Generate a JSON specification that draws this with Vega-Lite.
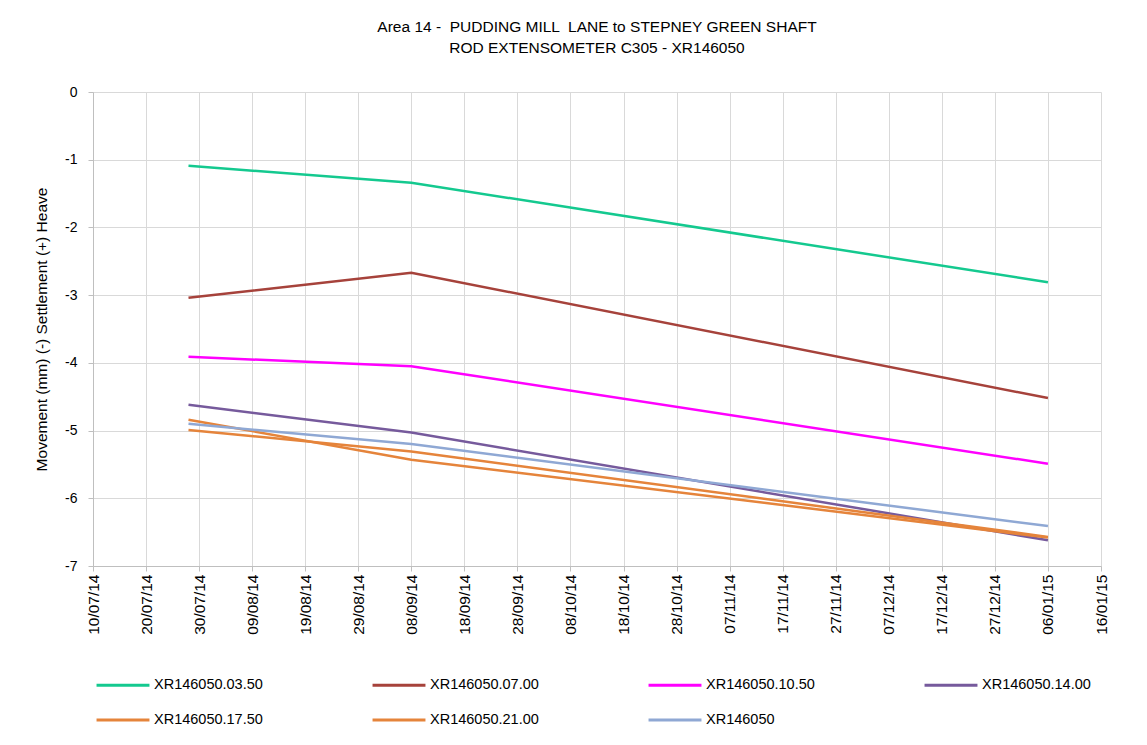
{
  "$schema": "https://vega.github.io/schema/vega-lite/v6.json",
  "width": 1008,
  "height": 474,
  "autosize": "none",
  "padding": {"left": 93, "top": 92, "right": 46, "bottom": 179},
  "background": "white",
  "config": {"view": {"stroke": null}, "font": "Liberation Sans"},
  "title": {
    "text": ["Area 14 - \u00a0PUDDING MILL \u00a0LANE to STEPNEY GREEN SHAFT", "ROD EXTENSOMETER C305 - XR146050"],
    "font": "Liberation Sans",
    "fontSize": 15.5,
    "fontWeight": "normal",
    "color": "#000000",
    "anchor": "middle",
    "offset": 29,
    "lineHeight": 21
  },
  "data": {
    "values": [
      {"series": "XR146050.03.50", "date": "2014-07-28", "value": -1.09},
      {"series": "XR146050.03.50", "date": "2014-09-08", "value": -1.34},
      {"series": "XR146050.03.50", "date": "2015-01-06", "value": -2.81},
      {"series": "XR146050.07.00", "date": "2014-07-28", "value": -3.04},
      {"series": "XR146050.07.00", "date": "2014-09-08", "value": -2.67},
      {"series": "XR146050.07.00", "date": "2015-01-06", "value": -4.52},
      {"series": "XR146050.10.50", "date": "2014-07-28", "value": -3.91},
      {"series": "XR146050.10.50", "date": "2014-09-08", "value": -4.05},
      {"series": "XR146050.10.50", "date": "2015-01-06", "value": -5.49},
      {"series": "XR146050.14.00", "date": "2014-07-28", "value": -4.62},
      {"series": "XR146050.14.00", "date": "2014-09-08", "value": -5.03},
      {"series": "XR146050.14.00", "date": "2015-01-06", "value": -6.62},
      {"series": "XR146050.17.50", "date": "2014-07-28", "value": -4.84},
      {"series": "XR146050.17.50", "date": "2014-09-08", "value": -5.43},
      {"series": "XR146050.17.50", "date": "2015-01-06", "value": -6.58},
      {"series": "XR146050.21.00", "date": "2014-07-28", "value": -4.99},
      {"series": "XR146050.21.00", "date": "2014-09-08", "value": -5.31},
      {"series": "XR146050.21.00", "date": "2015-01-06", "value": -6.57},
      {"series": "XR146050", "date": "2014-07-28", "value": -4.90},
      {"series": "XR146050", "date": "2014-09-08", "value": -5.20},
      {"series": "XR146050", "date": "2015-01-06", "value": -6.41}
    ]
  },
  "mark": {"type": "line", "strokeWidth": 2.5, "interpolate": "linear"},
  "encoding": {
    "x": {
      "field": "date",
      "type": "temporal",
      "scale": {"type": "utc", "domain": [{"year": 2014, "month": 7, "date": 10, "utc": true}, {"year": 2015, "month": 1, "date": 16, "utc": true}], "nice": false},
      "axis": {
        "title": null,
        "format": "%d/%m/%y",
        "values": [
          {"year": 2014, "month": 7, "date": 10, "utc": true},
          {"year": 2014, "month": 7, "date": 20, "utc": true},
          {"year": 2014, "month": 7, "date": 30, "utc": true},
          {"year": 2014, "month": 8, "date": 9, "utc": true},
          {"year": 2014, "month": 8, "date": 19, "utc": true},
          {"year": 2014, "month": 8, "date": 29, "utc": true},
          {"year": 2014, "month": 9, "date": 8, "utc": true},
          {"year": 2014, "month": 9, "date": 18, "utc": true},
          {"year": 2014, "month": 9, "date": 28, "utc": true},
          {"year": 2014, "month": 10, "date": 8, "utc": true},
          {"year": 2014, "month": 10, "date": 18, "utc": true},
          {"year": 2014, "month": 10, "date": 28, "utc": true},
          {"year": 2014, "month": 11, "date": 7, "utc": true},
          {"year": 2014, "month": 11, "date": 17, "utc": true},
          {"year": 2014, "month": 11, "date": 27, "utc": true},
          {"year": 2014, "month": 12, "date": 7, "utc": true},
          {"year": 2014, "month": 12, "date": 17, "utc": true},
          {"year": 2014, "month": 12, "date": 27, "utc": true},
          {"year": 2015, "month": 1, "date": 6, "utc": true},
          {"year": 2015, "month": 1, "date": 16, "utc": true}
        ],
        "labelAngle": 270,
        "labelFont": "Liberation Sans",
        "labelFontSize": 15.5,
        "labelColor": "#000000",
        "labelPadding": 3,
        "tickSize": 5,
        "tickColor": "#BFBFBF",
        "domainColor": "#BFBFBF",
        "grid": true,
        "gridColor": "#D9D9D9",
        "labelOverlap": false,
        "labelFlush": false
      }
    },
    "y": {
      "field": "value",
      "type": "quantitative",
      "scale": {"domain": [-7, 0], "nice": false, "zero": false},
      "axis": {
        "title": "Movement (mm) (-) Settlement (+) Heave",
        "titleFont": "Liberation Sans",
        "titleFontSize": 15.5,
        "titleFontWeight": "normal",
        "titleColor": "#000000",
        "titlePadding": 15,
        "values": [-7, -6, -5, -4, -3, -2, -1, 0],
        "labelExpr": "datum.value + ''",
        "labelFont": "Liberation Sans",
        "labelFontSize": 14,
        "labelColor": "#000000",
        "labelPadding": 11,
        "tickSize": 5,
        "tickColor": "#BFBFBF",
        "domainColor": "#BFBFBF",
        "grid": true,
        "gridColor": "#D9D9D9"
      }
    },
    "color": {
      "field": "series",
      "type": "nominal",
      "sort": ["XR146050.03.50", "XR146050.07.00", "XR146050.10.50", "XR146050.14.00", "XR146050.17.50", "XR146050.21.00", "XR146050"],
      "scale": {
        "domain": ["XR146050.03.50", "XR146050.07.00", "XR146050.10.50", "XR146050.14.00", "XR146050.17.50", "XR146050.21.00", "XR146050"],
        "range": ["#14C98F", "#A6423B", "#FF00FF", "#765A9C", "#E5843B", "#E5843B", "#8FA8D4"]
      },
      "legend": {
        "orient": "none",
        "legendX": 2,
        "legendY": 565,
        "direction": "horizontal",
        "columns": 4,
        "gridAlign": "all",
        "title": null,
        "symbolType": "stroke",
        "symbolSize": 2800,
        "symbolStrokeWidth": 3,
        "labelFont": "Liberation Sans",
        "labelFontSize": 14.5,
        "labelColor": "#000000",
        "labelOffset": 3,
        "labelLimit": 200,
        "columnPadding": 103,
        "rowPadding": 0,
        "padding": 0
      }
    }
  }
}
